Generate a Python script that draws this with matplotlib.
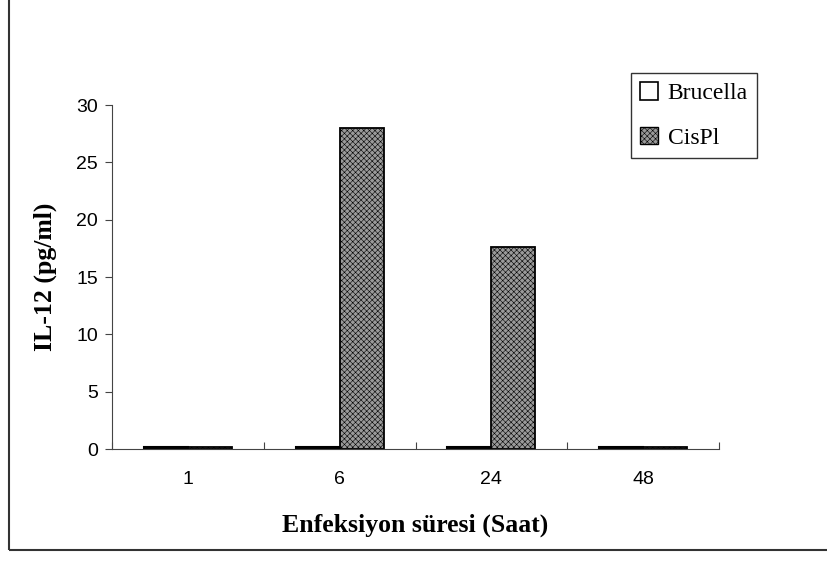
import numpy as np
import matplotlib
matplotlib.use("Agg")
import matplotlib.pyplot as plt
from matplotlib.patches import Patch, Rectangle

# data
categories = ["1", "6", "24", "48"]
brucella = [0.15, 0.15, 0.15, 0.15]
cispl = [0.15, 28.0, 17.6, 0.15]
yticks = [0, 5, 10, 15, 20, 25, 30]

plt.rcParams['hatch.color'] = '#5a5a5a'
plt.rcParams['hatch.linewidth'] = 0.4

fig = plt.figure(figsize=(8.27, 5.62), dpi=100)
ax = fig.add_axes([112/827, 1 - 449/562, (719 - 112)/827, (449 - 105)/562])

x = np.arange(len(categories))
w = 0.29
ax.bar(x - w/2, brucella, w, color='white', edgecolor='black', linewidth=1.5)
ax.bar(x + w/2, cispl, w, color='#9a9a9a', edgecolor='black', linewidth=1.3,
       hatch='xxxxxx')

ax.set_xlim(-0.5, len(categories) - 0.5)
ax.set_ylim(0, 30)
ax.set_yticks(yticks)
ax.set_xticks(np.arange(len(categories) + 1) - 0.5, minor=False)
ax.set_xticklabels([])
ax.set_xticks(x, minor=True)
ax.set_xticklabels(categories, minor=True)
ax.tick_params(axis='x', which='minor', length=0, pad=16)
ax.tick_params(axis='x', which='major', length=5, direction='in', color='#444')
ax.tick_params(axis='y', length=5, direction='out', color='#444', pad=5)
for lbl in ax.get_xticklabels(minor=True) + ax.get_yticklabels():
    lbl.set_fontfamily('Liberation Sans')
    lbl.set_fontsize(14)

for s in ['top', 'right']:
    ax.spines[s].set_visible(False)
ax.spines['left'].set_color('#444')
ax.spines['bottom'].set_color('#444')

ax.set_ylabel("IL-12 (pg/ml)", fontfamily='Liberation Serif', fontsize=18.5,
              fontweight='bold', labelpad=14)
ax.set_xlabel("Enfeksiyon süresi (Saat)", fontfamily='Liberation Serif', fontsize=18.5,
              fontweight='bold', labelpad=18)

handles = [Patch(facecolor='white', edgecolor='black', linewidth=1.2),
           Patch(facecolor='#9a9a9a', edgecolor='black', linewidth=1.0, hatch='xxxxxx')]
leg = fig.legend(handles, ["Brucella", "CisPl"], loc='upper left',
                 bbox_to_anchor=(631/827, 1 - 73/562),
                 prop={'family': 'Liberation Serif', 'size': 17},
                 frameon=True, fancybox=False, edgecolor='black',
                 handlelength=0.75, handleheight=0.75, handletextpad=0.4,
                 labelspacing=0.95, borderpad=0.4, borderaxespad=0)
leg.get_frame().set_linewidth(1.0)

# outer chart frame
fig.patches.append(Rectangle((9/827, 1 - 550/562), 1.2, 550/562 + 0.01,
                             transform=fig.transFigure, fill=False,
                             edgecolor='#333333', linewidth=1.5))

fig.savefig("out.png", dpi=100)
